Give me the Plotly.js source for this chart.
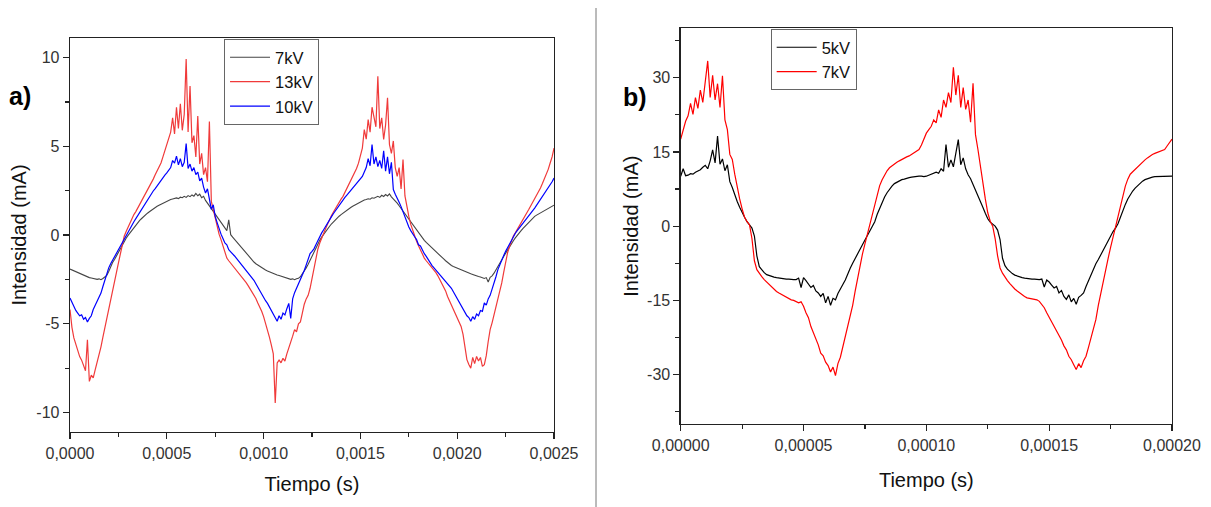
<!DOCTYPE html>
<html>
<head>
<meta charset="utf-8">
<script src="https://cdn.plot.ly/plotly-3.0.1.min.js"></script>
<style>html,body{margin:0;padding:0;background:#fff;}#chart{width:1211px;height:507px;}</style>
</head>
<body>
<div id="chart"></div>
<script>
// ---- Panel a) : time step 1e-5 s, 0 .. 0.0025 s ----
const pasoA = 0.00001;
const serieA_7kV = [
-1.92,-1.97,-2.03,-2.08,-2.14,-2.19,-2.22,-2.27,-2.31,-2.36,
-2.40,-2.42,-2.45,-2.44,-2.50,-2.47,-2.52,-2.45,-2.38,-2.28,
-2.05,-1.78,-1.55,-1.38,-1.17,-0.98,-0.80,-0.58,-0.35,-0.18,
-0.02,0.12,0.28,0.45,0.58,0.70,0.82,0.93,1.04,1.13,
1.23,1.31,1.40,1.48,1.55,1.62,1.68,1.74,1.80,1.86,
1.92,1.96,2.00,2.03,2.06,2.09,2.05,2.13,2.10,2.18,
2.12,2.22,2.16,2.26,2.19,2.35,2.21,2.30,2.10,2.18,
1.95,1.80,1.62,1.48,1.32,1.18,1.02,0.87,0.72,0.55,
0.40,0.25,0.85,0.02,-0.12,-0.25,-0.38,-0.50,-0.62,-0.78,
-0.90,-1.02,-1.15,-1.28,-1.40,-1.52,-1.62,-1.70,-1.78,-1.85,
-1.92,-1.97,-2.03,-2.08,-2.12,-2.17,-2.21,-2.25,-2.28,-2.32,
-2.36,-2.39,-2.43,-2.45,-2.50,-2.47,-2.52,-2.46,-2.44,-2.35,
-2.20,-2.05,-1.85,-1.65,-1.42,-1.18,-0.95,-0.70,-0.50,-0.30,
-0.12,0.05,0.20,0.35,0.48,0.62,0.74,0.86,0.96,1.06,
1.15,1.24,1.33,1.41,1.48,1.55,1.62,1.68,1.74,1.80,
1.88,1.92,1.97,2.00,2.04,2.02,2.10,2.07,2.14,2.18,
2.12,2.24,2.17,2.28,2.20,2.32,2.15,2.05,1.92,1.80,
1.65,1.50,1.35,1.18,1.02,0.86,0.70,0.55,0.40,0.25,
0.10,-0.04,-0.18,-0.30,-0.42,-0.53,-0.64,-0.75,-0.86,-0.97,
-1.06,-1.15,-1.25,-1.35,-1.45,-1.55,-1.64,-1.72,-1.77,-1.82,
-1.86,-1.90,-1.95,-2.00,-2.05,-2.10,-2.14,-2.18,-2.22,-2.27,
-2.31,-2.34,-2.37,-2.39,-2.45,-2.40,-2.65,-2.38,-2.30,-2.15,
-1.95,-1.75,-1.55,-1.38,-1.20,-1.02,-0.85,-0.65,-0.48,-0.32,
-0.16,0.00,0.12,0.25,0.38,0.49,0.62,0.74,0.85,0.95,
1.05,1.12,1.18,1.24,1.30,1.37,1.43,1.50,1.56,1.62,
1.68];
const serieA_13kV = [
-4.20,-5.20,-5.80,-6.20,-6.60,-6.85,-7.05,-7.40,-7.65,-5.90,
-8.25,-7.90,-8.05,-7.60,-7.20,-6.84,-6.30,-5.75,-5.20,-4.70,
-4.20,-3.65,-3.15,-2.60,-2.10,-1.58,-1.10,-0.60,-0.07,0.20,
0.45,0.70,0.95,1.15,1.32,1.52,1.72,1.92,2.10,2.30,
2.50,2.70,2.93,3.15,3.40,3.62,3.85,4.06,4.40,4.75,
5.05,5.40,5.80,6.60,5.70,7.20,6.00,7.40,5.90,6.80,
9.92,5.80,8.40,5.20,5.60,4.40,6.70,4.00,4.60,3.40,
3.80,3.00,6.40,1.90,1.43,0.90,0.40,0.05,-0.26,-0.60,
-0.95,-1.30,-1.45,-1.58,-1.75,-1.90,-2.00,-2.15,-2.28,-2.40,
-2.52,-2.68,-2.85,-3.02,-3.20,-3.38,-3.58,-3.83,-4.05,-4.30,
-4.60,-4.95,-5.33,-5.75,-6.20,-6.70,-9.47,-7.21,-7.05,-7.20,
-6.95,-7.10,-6.70,-6.40,-6.05,-5.70,-5.33,-5.45,-5.00,-4.90,
-4.40,-3.90,-3.60,-3.40,-3.00,-2.40,-1.80,-1.20,-0.80,-0.45,
-0.15,0.10,0.35,0.60,0.87,1.08,1.28,1.48,1.68,1.88,
2.02,2.18,2.40,2.62,2.85,3.08,3.30,3.50,3.75,4.05,
4.44,4.90,5.94,5.40,6.50,5.80,7.20,6.69,6.10,8.95,
6.00,6.60,5.38,6.20,7.73,5.10,4.60,5.30,3.80,3.31,
3.80,2.60,4.25,2.20,1.50,1.05,0.60,0.25,-0.05,-0.35,
-0.60,-0.83,-1.10,-1.30,-1.45,-1.58,-1.70,-1.82,-1.95,-2.12,
-2.30,-2.50,-2.70,-2.90,-3.15,-3.46,-3.70,-3.95,-4.20,-4.45,
-4.70,-4.92,-5.15,-5.60,-6.30,-7.02,-7.30,-7.50,-6.90,-7.25,
-6.84,-7.10,-6.90,-7.40,-7.30,-6.80,-6.00,-5.33,-4.95,-4.50,
-4.10,-3.70,-3.27,-2.70,-2.10,-1.50,-1.00,-0.65,-0.35,-0.05,
0.12,0.30,0.48,0.68,0.86,1.05,1.25,1.45,1.65,1.85,
2.02,2.18,2.40,2.65,2.90,3.15,3.42,3.70,4.06,4.40,
4.90];
const serieA_10kV = [
-3.55,-3.80,-4.05,-4.25,-4.40,-4.55,-4.50,-4.75,-4.65,-4.90,
-4.70,-4.55,-4.20,-3.95,-3.70,-3.50,-3.27,-2.90,-2.55,-2.10,
-1.85,-1.62,-1.42,-1.20,-1.00,-0.82,-0.62,-0.42,-0.20,0.02,
0.21,0.40,0.58,0.75,0.92,1.10,1.28,1.45,1.62,1.80,
2.00,2.15,2.32,2.48,2.62,2.78,2.92,3.12,3.22,3.38,
3.50,3.62,3.80,4.20,4.05,4.45,3.95,4.30,3.85,4.10,
5.15,3.75,4.00,3.60,3.80,3.40,3.55,3.05,3.20,2.70,
2.37,2.60,1.90,1.45,1.70,1.05,0.70,0.35,0.05,-0.20,
-0.45,-0.55,-0.83,-0.95,-1.05,-1.18,-1.32,-1.45,-1.58,-1.72,
-1.85,-1.98,-2.12,-2.25,-2.40,-2.55,-2.75,-2.95,-3.15,-3.35,
-3.55,-3.70,-3.85,-4.05,-4.25,-4.45,-4.60,-4.86,-4.55,-4.75,
-4.40,-4.50,-4.15,-3.85,-4.70,-3.60,-3.25,-3.00,-2.75,-2.55,
-2.33,-2.00,-1.68,-1.35,-1.05,-0.92,-0.78,-0.55,-0.30,-0.08,
0.12,0.30,0.50,0.68,0.86,1.02,1.20,1.36,1.52,1.70,
1.85,2.00,2.12,2.25,2.38,2.52,2.64,2.78,2.90,3.02,
3.12,3.30,3.55,3.80,4.30,3.90,5.10,4.00,4.40,3.85,
4.20,3.75,4.75,3.60,4.40,3.45,4.10,2.56,2.30,2.10,
1.85,1.60,1.30,1.00,0.68,0.45,0.25,0.05,-0.10,-0.26,
-0.55,-0.62,-0.85,-1.05,-1.20,-1.38,-1.58,-1.72,-1.85,-1.98,
-2.10,-2.22,-2.35,-2.47,-2.60,-2.72,-2.85,-3.00,-3.20,-3.40,
-3.60,-3.80,-4.00,-4.20,-4.35,-4.55,-4.65,-4.86,-4.60,-4.75,
-4.45,-4.55,-4.25,-4.30,-3.83,-3.95,-3.60,-3.40,-3.05,-2.75,
-2.35,-1.95,-1.65,-1.40,-1.15,-0.92,-0.70,-0.50,-0.28,-0.07,
0.10,0.25,0.40,0.55,0.70,0.84,0.98,1.10,1.24,1.38,
1.52,1.68,1.84,2.00,2.15,2.32,2.48,2.65,2.82,3.00,
3.21];

// ---- Panel b) : time step 1e-6 s, 0 .. 0.0002 s ----
const pasoB = 0.000001;
const serieB_5kV = [
10.1,11.6,10.2,10.3,10.6,10.5,10.9,11.1,11.4,11.9,
12.3,11.6,13.2,15.4,12.8,18.2,12.5,13.6,11.2,12.4,
9.0,7.8,6.2,5.0,3.8,2.7,1.8,0.9,0.2,-0.4,
-2.0,-6.0,-8.2,-8.9,-9.4,-9.8,-10.0,-10.2,-10.3,-10.4,
-10.5,-10.6,-10.6,-10.7,-10.7,-10.8,-10.8,-10.8,-10.5,-12.4,
-10.4,-11.0,-11.6,-12.4,-12.0,-13.1,-13.5,-14.2,-13.6,-15.5,
-14.2,-16.0,-14.6,-14.9,-13.6,-12.8,-11.8,-10.9,-9.6,-8.5,
-7.5,-6.5,-5.5,-4.6,-3.6,-2.8,-1.9,-1.0,-0.3,0.9,
2.4,3.7,4.8,5.9,6.75,7.5,8.1,8.6,8.9,9.2,
9.4,9.5,9.7,9.8,9.9,10.0,10.0,10.1,10.1,10.0,
10.1,10.3,10.4,10.6,10.9,10.7,11.6,11.1,16.5,11.9,
13.4,12.0,14.8,17.5,12.4,13.8,11.6,10.4,9.6,8.5,
7.2,6.0,4.9,3.8,2.6,1.5,0.8,0.3,0.0,-0.8,
-2.7,-6.5,-8.0,-8.7,-9.2,-9.6,-9.9,-10.1,-10.3,-10.4,
-10.5,-10.6,-10.6,-10.7,-10.7,-10.8,-10.8,-10.7,-12.3,-10.9,
-11.3,-11.9,-12.5,-12.2,-13.5,-13.0,-14.2,-14.8,-13.9,-15.3,
-14.6,-15.8,-14.4,-14.0,-13.5,-12.2,-11.0,-9.8,-8.5,-7.6,
-6.75,-5.8,-4.8,-3.9,-2.9,-1.9,-1.1,-0.4,0.5,1.8,
3.2,4.4,5.5,6.4,7.1,7.7,8.2,8.7,9.1,9.4,
9.6,9.8,9.9,10.0,10.0,10.1,10.1,10.1,10.1,10.0,
10.1];
const serieB_7kV = [
17.6,19.5,21.2,22.3,24.8,22.6,26.0,23.8,27.5,25.0,
29.5,33.4,26.0,30.5,25.5,28.8,24.0,30.4,21.5,19.5,
14.5,13.5,10.5,7.6,5.5,3.5,1.8,0.9,0.3,-2.5,
-7.0,-8.8,-9.6,-10.2,-10.8,-11.3,-11.8,-12.3,-12.8,-13.2,
-13.5,-13.8,-14.0,-14.3,-14.6,-14.9,-15.0,-15.2,-15.5,-15.3,
-16.2,-17.5,-18.5,-20.3,-21.5,-22.8,-24.0,-25.7,-26.2,-27.5,
-28.2,-29.5,-28.5,-30.2,-27.8,-26.5,-24.5,-22.5,-20.5,-18.5,
-16.0,-13.2,-10.5,-8.0,-5.6,-3.6,-1.6,0.3,2.2,4.4,
6.6,8.2,9.4,10.4,11.2,11.8,12.2,12.6,12.9,13.2,
13.5,13.8,14.0,14.2,14.5,14.8,15.2,15.5,16.4,17.5,
18.8,19.5,20.2,21.5,20.9,23.5,22.0,25.5,24.0,27.0,
25.0,32.1,26.5,30.5,24.0,28.0,23.6,25.5,21.0,28.9,
18.5,15.5,12.0,9.0,5.5,2.7,1.0,0.0,-2.5,-6.0,
-8.45,-9.5,-10.4,-11.0,-11.6,-12.2,-12.7,-13.1,-13.5,-13.9,
-14.2,-14.5,-14.6,-14.7,-14.8,-14.9,-15.2,-15.8,-16.5,-17.5,
-18.4,-19.4,-20.2,-21.0,-21.8,-23.0,-24.2,-25.0,-26.3,-27.0,
-28.0,-29.0,-27.8,-28.6,-27.2,-26.3,-24.5,-22.5,-20.8,-18.9,
-16.0,-13.5,-11.0,-8.8,-6.5,-4.3,-2.2,-0.2,1.8,3.8,
6.2,8.1,9.5,10.5,11.0,11.5,12.0,12.5,13.0,13.4,
13.8,14.2,14.5,14.7,14.9,15.1,15.3,15.5,16.2,16.8,
17.6];

const nombresA = ['7kV', '13kV', '10kV'];
const nombresB = ['5kV', '7kV'];
const tituloX = 'Tiempo (s)';
const tituloY = 'Intensidad (mA)';
// tick labels (hyphen-minus as in the original figure)
const ticksYA = [-10, -5, 0, 5, 10];
const etiquetasYA = ['-10', '-5', '0', '5', '10'];
const ticksYB = [-30, -15, 0, 15, 30];
const etiquetasYB = ['-30', '-15', '0', '15', '30'];

const FONT = 'Liberation Sans, Arial, sans-serif';

const traces = [
  {type:'scatter', mode:'lines', name:nombresA[0], y:serieA_7kV, x0:0, dx:pasoA,
   xaxis:'x', yaxis:'y', legend:'legend', line:{color:'#454545', width:1.1}},
  {type:'scatter', mode:'lines', name:nombresA[1], y:serieA_13kV, x0:0, dx:pasoA,
   xaxis:'x', yaxis:'y', legend:'legend', line:{color:'#f03a3a', width:1.2}},
  {type:'scatter', mode:'lines', name:nombresA[2], y:serieA_10kV, x0:0, dx:pasoA,
   xaxis:'x', yaxis:'y', legend:'legend', line:{color:'#0000ff', width:1.2}},
  {type:'scatter', mode:'lines', name:nombresB[0], y:serieB_5kV, x0:0, dx:pasoB,
   xaxis:'x2', yaxis:'y2', legend:'legend2', line:{color:'#000000', width:1.2}},
  {type:'scatter', mode:'lines', name:nombresB[1], y:serieB_7kV, x0:0, dx:pasoB,
   xaxis:'x2', yaxis:'y2', legend:'legend2', line:{color:'#ff0000', width:1.2}}
];

function axisBase(){
  return {
    showgrid:false, zeroline:false, showline:true, mirror:true,
    linecolor:'#222', linewidth:1.3,
    ticks:'outside', ticklen:6, tickwidth:1.2, tickcolor:'#222',
    tickfont:{family:FONT, size:16, color:'#333'},
    automargin:false, fixedrange:true
  };
}

const layout = {
  width:1211, height:507,
  margin:{l:0, r:0, t:0, b:0},
  paper_bgcolor:'#ffffff', plot_bgcolor:'#ffffff',
  separators:',.',
  font:{family:FONT, color:'#222'},
  showlegend:true,
  xaxis: Object.assign(axisBase(), {
    domain:[0.0578, 0.4575], anchor:'y', range:[0, 0.0025],
    tick0:0, dtick:0.0005, tickformat:'.4f',
    minor:{ticks:'outside', ticklen:4, tickwidth:1.2, tickcolor:'#222', dtick:0.00025, tick0:0, showgrid:false},
    title:{text:tituloX, font:{family:FONT, size:20, color:'#111'}, standoff:16}
  }),
  yaxis: Object.assign(axisBase(), {
    domain:[0.1479, 0.925], anchor:'x', range:[-11.1, 11.1],
    tickmode:'array', tickvals:ticksYA, ticktext:etiquetasYA,
    minor:{ticks:'outside', ticklen:4, tickwidth:1.2, tickcolor:'#222', dtick:2.5, tick0:0, showgrid:false},
    title:{text:tituloY, font:{family:FONT, size:20, color:'#111'}, standoff:4}
  }),
  xaxis2: Object.assign(axisBase(), {
    domain:[0.5621, 0.9678], anchor:'y2', range:[0, 0.0002],
    tick0:0, dtick:0.00005, tickformat:'.5f',
    minor:{ticks:'outside', ticklen:4, tickwidth:1.2, tickcolor:'#222', dtick:0.000025, tick0:0, showgrid:false},
    title:{text:tituloX, font:{family:FONT, size:20, color:'#111'}, standoff:20}
  }),
  yaxis2: Object.assign(axisBase(), {
    domain:[0.1637, 0.9442], anchor:'x2', range:[-40, 40],
    tickmode:'array', tickvals:ticksYB, ticktext:etiquetasYB,
    minor:{ticks:'outside', ticklen:4, tickwidth:1.2, tickcolor:'#222', dtick:7.5, tick0:0, showgrid:false},
    title:{text:tituloY, font:{family:FONT, size:20, color:'#111'}, standoff:3}
  }),
  legend:{x:0.185, y:0.923, xanchor:'left', yanchor:'top', bgcolor:'#ffffff',
    bordercolor:'#666', borderwidth:1, font:{family:FONT, size:16.5, color:'#111'},
    tracegroupgap:0, itemwidth:40},
  legend2:{x:0.6364, y:0.9428, xanchor:'left', yanchor:'top', bgcolor:'#ffffff',
    bordercolor:'#666', borderwidth:1, font:{family:FONT, size:16.5, color:'#111'},
    tracegroupgap:0, itemwidth:40},
  annotations:[
    {xref:'paper', yref:'paper', x:20/1211, y:1-96/507, text:'<b>a)</b>', showarrow:false,
     font:{family:FONT, size:25, color:'#000'}, xanchor:'center', yanchor:'middle'},
    {xref:'paper', yref:'paper', x:635/1211, y:1-97/507, text:'<b>b)</b>', showarrow:false,
     font:{family:FONT, size:25, color:'#000'}, xanchor:'center', yanchor:'middle'}
  ],
  shapes:[
    {type:'line', xref:'paper', yref:'paper', x0:596/1211, x1:596/1211, y0:0, y1:1-8/507,
     line:{color:'#777', width:1}}
  ]
};

Plotly.newPlot('chart', traces, layout, {displayModeBar:false, staticPlot:true});
</script>
</body>
</html>
